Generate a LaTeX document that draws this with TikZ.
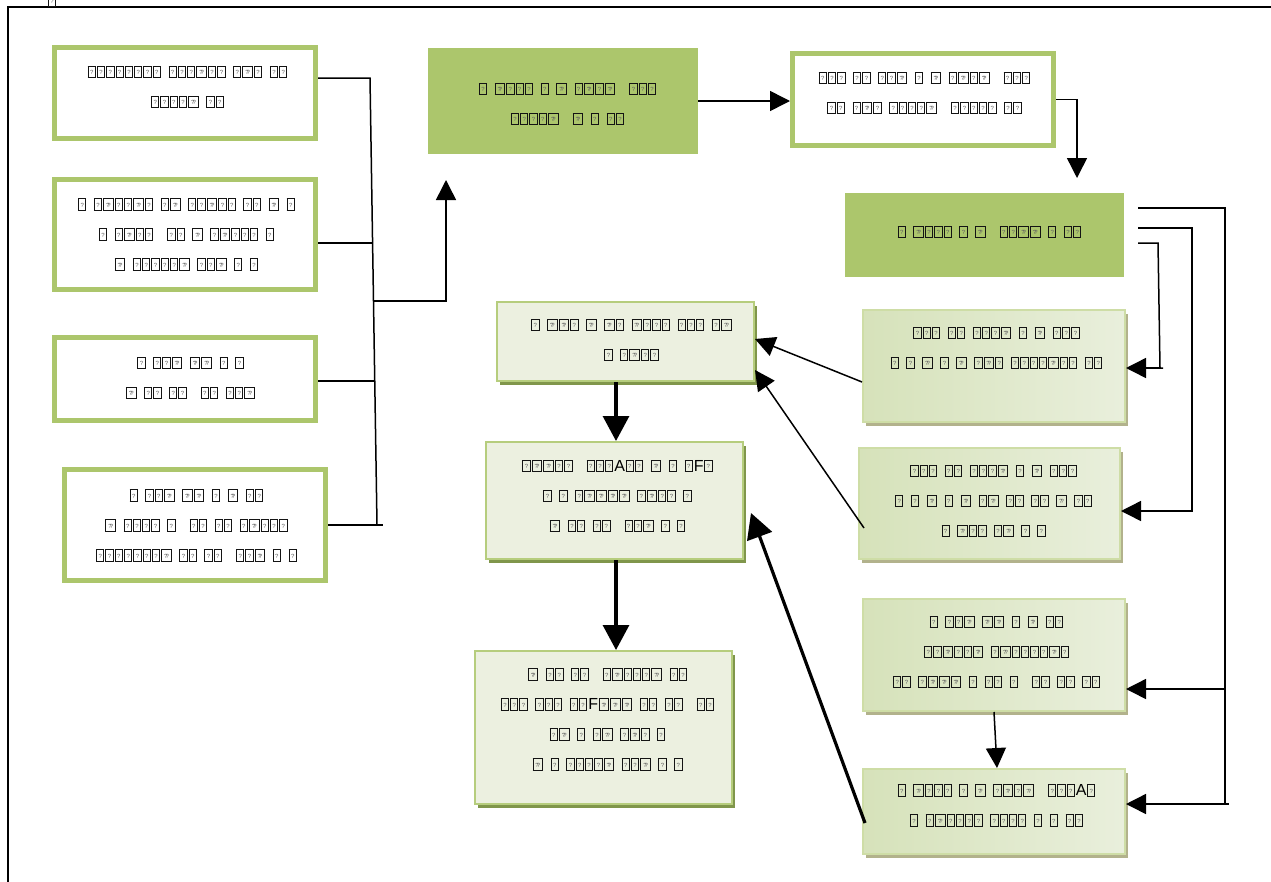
\documentclass[tikz,border=0pt]{standalone}
\usepackage{fontspec}
\setmainfont{Liberation Sans}
\usetikzlibrary{arrows.meta,shadows,calc}
\definecolor{ogreen}{RGB}{172,198,108}
\definecolor{mborder}{RGB}{182,205,125}
\definecolor{mfill}{RGB}{236,240,224}
\definecolor{mshadow}{RGB}{128,150,75}
\definecolor{rborder}{RGB}{206,221,166}
\definecolor{rfillA}{RGB}{214,226,186}
\definecolor{rfillB}{RGB}{233,239,220}
\definecolor{rshadow}{RGB}{178,178,140}
\definecolor{tofu}{RGB}{20,20,20}
\definecolor{tofuq}{RGB}{95,95,95}
\newcommand\tq{\raisebox{2.6pt}{\color{tofuq}\fontsize{6}{6}\selectfont ?}}
\newcommand\tb{\raisebox{-2pt}{\color{tofu}\fboxsep0pt\fboxrule1pt\fbox{\makebox[6.3pt]{\rule{0pt}{10.4pt}\tq}}}\kern1pt\relax}
\newcommand\tbb{\raisebox{-2pt}{\color{tofu}\fboxsep0pt\fboxrule1pt\fbox{\makebox[8.6pt]{\rule{0pt}{10.4pt}\tq\kern-2pt\tq}}}\kern1pt\relax}
\def\tchar#1{\if#1o\tb\else\if#1d\tbb\else\if#1-\hspace{6.5pt}\else\raisebox{-2.2pt}{\fontsize{16}{16}\selectfont#1}\kern0.5pt\relax\fi\fi\fi}
\def\tparse#1{\ifx#1\relax\else\tchar#1\expandafter\tparse\fi}
\newcommand\tline[1]{\tparse#1\relax}
\begin{document}
\begin{tikzpicture}[x=1pt,y=-1pt,
  wbox/.style={draw=ogreen,line width=5pt,fill=white,inner sep=0pt},
  gbox/.style={fill=ogreen,inner sep=0pt},
  mbox/.style={draw=mborder,line width=2pt,fill=mfill,inner sep=0pt,
    drop shadow={shadow xshift=3pt,shadow yshift=-4pt,fill=mshadow,opacity=1}},
  rbox/.style={draw=rborder,line width=2pt,left color=rfillA,right color=rfillB,inner sep=0pt,
    drop shadow={shadow xshift=3pt,shadow yshift=-4pt,fill=rshadow,opacity=1}},
  txt/.style={align=center,inner sep=0pt,font=\fontsize{10}{30}\selectfont,text=black},
  conn/.style={line width=1.5pt,draw=black},
  arr/.style={conn,-{Triangle[length=20pt,width=20pt]}},
  thickarr/.style={line width=3.2pt,draw=black,-{Triangle[length=25pt,width=26pt]}}]
\useasboundingbox (0,0) rectangle (1271,881);
% frame
\coordinate (fa) at (8,890);
\coordinate (fb) at (8,7);
\coordinate (fc) at (1280,7);
\draw[line width=1.3pt] (fa) -- (fb) -- (fc);
\node[inner sep=0pt] (tf0) at (52.6,1) {\tb};
% left white boxes
\node[wbox,minimum width=261pt,minimum height=91pt] (L1) at (185,93) {};
\node[txt] (L1t) at (188,87) {\tline{oooooooo-ooodoo-odo-oo}\\\tline{ooood-oo}};
\node[wbox,minimum width=261pt,minimum height=110pt] (L2) at (185,234.5) {};
\node[txt] (L2t) at (187,234.5) {\tline{o-odoodo-od-oodoo-oo-d-o}\\\tline{o-odoo--oo-d-odooo-o}\\\tline{d-oooood-ood-o-o}};
\node[wbox,minimum width=261pt,minimum height=83pt] (L3) at (185,379) {};
\node[txt] (L3t) at (191,378) {\tline{o-ood-dd-o-o}\\\tline{d-oo-oo--oo-ood}};
\node[wbox,minimum width=261pt,minimum height=111pt] (L4) at (195,525) {};
\node[txt] (L4t) at (197,525.5) {\tline{o-ood-dd-o-d-oo}\\\tline{d-oooo-o--oo-oo-odooo}\\\tline{oooooood-oo-oo--ood-o-o}};
% top green and white boxes
\node[gbox,minimum width=270pt,minimum height=106pt] (G1) at (563,101) {};
\node[txt] (G1t) at (568,104) {\tline{o-dooo-o-d-odod--ooo}\\\tline{ooood--d-o-oo}};
\node[wbox,minimum width=261pt,minimum height=92pt] (TR) at (923,99.5) {};
\node[txt] (TRt) at (925,93) {\tline{ooo-oo-ood-o-d-odod--ooo}\\\tline{oo-odo-ooood--ooooo-oo}};
\node[gbox,minimum width=279pt,minimum height=84pt] (G2) at (984.5,235) {};
\node[txt] (G2t) at (990,232) {\tline{o-dooo-o-d--oodd-o-oo}};
% middle boxes
\node[mbox,minimum width=257pt,minimum height=79pt] (M1) at (625.5,341.5) {};
\node[txt] (M1t) at (632,340) {\tline{o-ddo-d-do-dooo-ooo-od}\\\tline{o-odoo}};
\node[mbox,minimum width=257pt,minimum height=117pt] (M2) at (614.5,500.5) {};
\node[txt] (M2t) at (618,496) {\tline{oddoo--oooAoo-d-o-oFo}\\\tline{o-o-odddd-odoo-o}\\\tline{d-oo-oo--ood-o-o}};
\node[mbox,minimum width=257pt,minimum height=153pt] (M3) at (603.5,727.5) {};
\node[txt] (M3t) at (608,719.5) {\tline{d-oo-oo--odoood-oo}\\\tline{ooo-ooo-ooFddd-oo-oo--oo}\\\tline{od-o-od-odo-o}\\\tline{d-o-ooood-ood-o-o}};
% right boxes
\node[rbox,minimum width=262pt,minimum height=112pt] (R1) at (994,366) {};
\node[txt] (R1t) at (997,348) {\tline{ooo-oo-oood-o-d-ooo}\\\tline{o-o-d-o-d-odo-oooodoo-oo}};
\node[rbox,minimum width=261pt,minimum height=111pt] (R2) at (989.5,503.5) {};
\node[txt] (R2t) at (994,501) {\tline{ooo-oo-oood-o-d-ooo}\\\tline{o-o-d-o-d-od-oo-oo-d-oo}\\\tline{o-doo-od-o-o}};
\node[rbox,minimum width=262pt,minimum height=112pt] (R3) at (994,655) {};
\node[txt] (R3t) at (997,652) {\tline{o-ood-dd-o-d-oo}\\\tline{oodood-odoooodo}\\\tline{oo-oddd-o-oo-o--oo-oo-oo}};
\node[rbox,minimum width=262pt,minimum height=85pt] (R4) at (994,811.5) {};
\node[txt] (R4t) at (997,805.5) {\tline{o-dooo-o-d-odod--oooAo}\\\tline{o-odoooo-oooo-o-o-oo}};
% left bracket
\coordinate (bT) at (370,78);
\coordinate (b2) at (372.6,243);
\coordinate (bJ) at (373.5,301);
\coordinate (b3) at (374.7,381);
\coordinate (bB) at (377,525);
\coordinate (b4) at (383,525);
\coordinate (upA) at (446,301);
\coordinate (upB) at (446,180);
\draw[conn] ([yshift=15pt]L1.east) -- (bT) -- (bB);
\draw[conn] ([yshift=-8.5pt]L2.east) -- (b2);
\draw[conn] ([yshift=-2pt]L3.east) -- (b3);
\draw[conn] (L4.east) -- (b4);
\draw[arr] (bJ) -- (upA) -- (upB);
% top arrows
\draw[arr] (G1.east) -- (G1.east -| TR.west);
\coordinate (tr1) at (1077,99.5);
\coordinate (tr2) at (1077,178);
\draw[arr] (TR.east) -- (tr1) -- (tr2);
% rails from G2
\coordinate (s1) at ([xshift=14pt,yshift=27pt]G2.east);
\coordinate (s2) at ([xshift=14pt,yshift=7pt]G2.east);
\coordinate (s3) at ([xshift=14pt,yshift=-8pt]G2.east);
\coordinate (k1a) at (1225,208);
\coordinate (k1b) at (1225,804);
\coordinate (k1c) at (1229,804);
\coordinate (j3) at (1225,689);
\coordinate (k2a) at (1192,228);
\coordinate (k2b) at (1192,511);
\coordinate (k3a) at (1158,243);
\coordinate (k3b) at (1160,368);
\coordinate (k3c) at (1163,368);
\draw[conn] (s1) -- (k1a) -- (k1b) -- (k1c);
\draw[arr] (k1b) -- ([yshift=7.5pt]R4.east);
\draw[arr] (j3) -- ([yshift=-34pt]R3.east);
\draw[arr] (s2) -- (k2a) -- (k2b) -- ([yshift=-7.5pt]R2.east);
\draw[conn] (s3) -- (k3a) -- (k3b) -- (k3c);
\draw[arr] (k3b) -- ([yshift=-2pt]R1.east);
% right to middle
\draw[arr] ([yshift=-16pt]R1.west) -- ([yshift=2.5pt]M1.east);
\draw[arr] ([xshift=6pt,yshift=-24.5pt]R2.west) -- ([yshift=-28.5pt]M1.east);
\draw[arr] (R3.south) -- ([xshift=3pt]R4.north);
\draw[thickarr] ([xshift=3pt,yshift=-11.5pt]R4.west) -- ([xshift=7pt,yshift=-12.5pt]M2.east);
% middle chain
\draw[thickarr] ([xshift=-9.5pt]M1.south) -- ([xshift=-9.5pt]M1.south |- M2.north);
\draw[thickarr] ([xshift=1.5pt]M2.south) -- ([xshift=1.5pt]M2.south |- M3.north);
\end{tikzpicture}
\end{document}
